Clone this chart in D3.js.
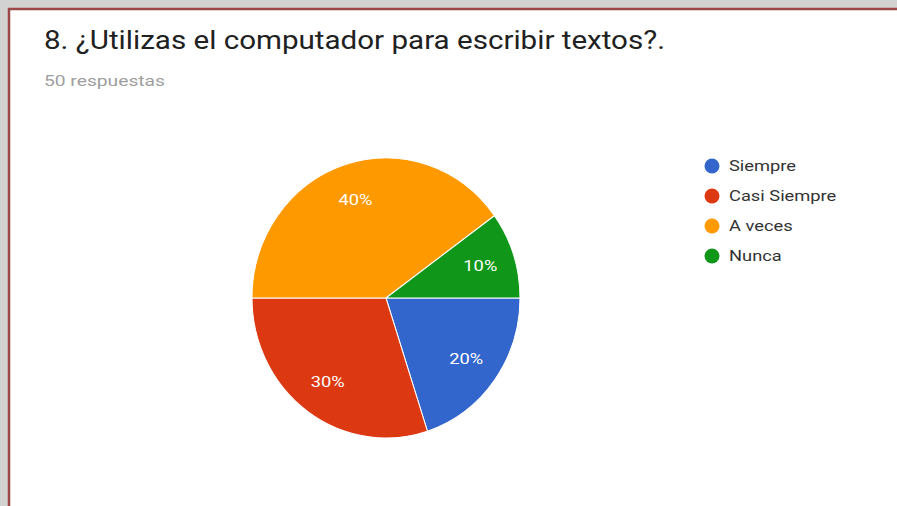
<!DOCTYPE html>
<html>
<head>
<meta charset="utf-8">
<script src="https://cdn.jsdelivr.net/npm/d3@7"></script>
<style>
  html, body { margin: 0; padding: 0; background: #d4d4d4; }
  svg { display: block; }
</style>
</head>
<body>
<div id="chart"></div>
<script>
const width = 897, height = 506;

// data
const categories = ["Siempre", "Casi Siempre", "A veces", "Nunca"];
const values = [20, 30, 40, 10];
const colors = ["#3366cc", "#dc3912", "#ff9900", "#109618"];
const titleText = "8. ¿Utilizas el computador para escribir textos?.";
const subtitleText = "50 respuestas";

// the screenshot is stretched sideways, so text is widened a bit
const textStretch = 1.22;

const svg = d3.select("#chart")
    .append("svg")
    .attr("width", width)
    .attr("height", height);

// card frame
svg.append("rect")
    .attr("x", 0).attr("y", 0)
    .attr("width", width).attr("height", height)
    .attr("fill", "#d2d2d2");
svg.append("rect")
    .attr("x", 9).attr("y", 9)
    .attr("width", width + 20).attr("height", height + 20)
    .attr("fill", "#ffffff")
    .attr("stroke", "#9c4848")
    .attr("stroke-width", 2.5);

svg.append("text")
    .attr("x", 44).attr("y", 49)
    .attr("font-family", "Roboto, sans-serif")
    .attr("font-size", "26px")
    .attr("fill", "#212121")
    .attr("textLength", 621)
    .attr("lengthAdjust", "spacingAndGlyphs")
    .text(titleText);

svg.append("text")
    .attr("x", 44).attr("y", 86)
    .attr("font-family", "Roboto, sans-serif")
    .attr("font-size", "14.5px")
    .attr("fill", "#9e9e9e")
    .attr("textLength", 121)
    .attr("lengthAdjust", "spacingAndGlyphs")
    .text(subtitleText);

// pie (slightly taller than wide, as in the picture)
const cx = 386, cy = 298, r = 134, sy = 140 / 134;
const total = d3.sum(values);
const pie = d3.pie().sort(null).value(d => d)
    .startAngle(Math.PI / 2).endAngle(Math.PI / 2 + 2 * Math.PI);
const arc = d3.arc().innerRadius(0).outerRadius(r);
const labelArc = d3.arc().innerRadius(r * 0.74).outerRadius(r * 0.74);

const g = svg.append("g")
    .attr("transform", `translate(${cx},${cy}) scale(1,${sy})`);

const arcs = pie(values);
g.selectAll("path")
    .data(arcs)
    .join("path")
    .attr("d", arc)
    .attr("fill", (d, i) => colors[i])
    .attr("stroke", "#ffffff")
    .attr("stroke-width", 1);

svg.selectAll("text.slice-label")
    .data(arcs)
    .join("text")
    .attr("class", "slice-label")
    .attr("transform", d => `translate(${cx + labelArc.centroid(d)[0]},${cy + labelArc.centroid(d)[1] * sy}) scale(${textStretch},1)`)
    .attr("dy", "0.35em")
    .attr("text-anchor", "middle")
    .attr("font-family", "Roboto, sans-serif")
    .attr("font-size", "15px")
    .attr("fill", "#ffffff")
    .text(d => Math.round(d.value / total * 100) + "%");

// legend
const legend = svg.append("g").attr("transform", "translate(712,166)");
const items = legend.selectAll("g")
    .data(categories)
    .join("g")
    .attr("transform", (d, i) => `translate(0,${i * 30})`);
items.append("circle")
    .attr("r", 7.5)
    .attr("fill", (d, i) => colors[i]);
items.append("text")
    .attr("transform", `translate(17,0) scale(${textStretch},1)`)
    .attr("dy", "0.36em")
    .attr("font-family", "Roboto, sans-serif")
    .attr("font-size", "15px")
    .attr("fill", "#333333")
    .text(d => d);
</script>
</body>
</html>
